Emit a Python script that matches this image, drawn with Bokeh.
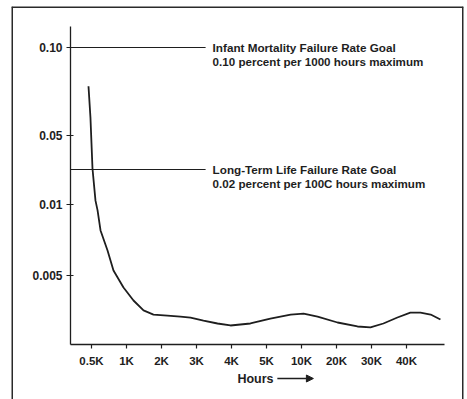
import numpy as np
from bokeh.plotting import figure
from bokeh.models import (Range1d, FixedTicker, Arrow, NormalHead, ColumnDataSource,
                          LinearAxis)
from bokeh.core.properties import value
from bokeh.embed import file_html
from bokeh.resources import INLINE

# ---- data -------------------------------------------------------------
x_tick_hours = [500, 1000, 2000, 3000, 4000, 5000, 10000, 20000, 30000, 40000]
x_tick_labels = ["0.5K", "1K", "2K", "3K", "4K", "5K", "10K", "20K", "30K", "40K"]

y_tick_rates = [0.005, 0.01, 0.05, 0.10]
y_tick_labels = ["0.005", "0.01", "0.05", "0.10"]

# failure rate (percent per 1000 hours)
curve_hours = [457, 485, 514, 557, 586, 629, 729, 814, 957, 1200, 1486, 1770, 2170,
               2540, 2830, 3200, 3600, 3970, 4540, 5550, 8450, 10600, 14600, 20300,
               26000, 29700, 33400, 37400, 41100, 44000, 46900, 49700]
curve_rate = [0.078, 0.0602, 0.0209, 0.0111, 0.0096, 0.00817, 0.00676, 0.00535,
              0.00415, 0.00324, 0.00254, 0.00225, 0.00218, 0.00211, 0.00204,
              0.00183, 0.00162, 0.00148, 0.00162, 0.00197, 0.00225, 0.00232,
              0.00211, 0.00169, 0.00141, 0.00134, 0.00162, 0.00204, 0.00239,
              0.00239, 0.00225, 0.00190]

goal_rates = [0.10, 0.02]
goal_titles = ["Infant Mortality Failure Rate Goal", "Long-Term Life Failure Rate Goal"]
goal_subtitles = ["0.10 percent per 1000 hours maximum", "0.02 percent per 100C hours maximum"]

x_title = "Hours"

# ---- the chart's own (non-uniform) axis scales --------------------------
X_ANCHOR_VAL = x_tick_hours
X_ANCHOR_POS = list(range(len(x_tick_hours)))
Y_ANCHOR_VAL = [0.005, 0.01, 0.02, 0.05, 0.10]
Y_ANCHOR_POS = [69, 140, 175, 209, 297]


def scale(v, av, ap):
    v = np.asarray(v, dtype=float)
    av = np.asarray(av, dtype=float)
    ap = np.asarray(ap, dtype=float)
    out = np.interp(v, av, ap)
    lo = v < av[0]
    hi = v > av[-1]
    s0 = (ap[1] - ap[0]) / (av[1] - av[0])
    s1 = (ap[-1] - ap[-2]) / (av[-1] - av[-2])
    out[lo] = ap[0] + (v[lo] - av[0]) * s0
    out[hi] = ap[-1] + (v[hi] - av[-1]) * s1
    return out


cx = scale(curve_hours, X_ANCHOR_VAL, X_ANCHOR_POS)
cy = scale(curve_rate, Y_ANCHOR_VAL, Y_ANCHOR_POS)
gy = scale(goal_rates, Y_ANCHOR_VAL, Y_ANCHOR_POS)
ytick_pos = [int(round(v)) for v in scale(y_tick_rates, Y_ANCHOR_VAL, Y_ANCHOR_POS)]

INK = "#1e1e1e"
FONT = "Liberation Sans"

# the frame is the outer box of the figure; the axes sit inside it
XR = Range1d(-2.286, 10.629)
YR = Range1d(-55, 338)
X_AXIS_AT = 0        # y position of the hours axis
Y_AXIS_AT = -0.6     # x position of the rate axis
X_AXIS_END = 10.1
Y_AXIS_END = 318

p = figure(width=467, height=399, output_backend="svg", toolbar_location=None,
           x_range=XR, y_range=YR, x_axis_location=None, y_axis_location=None,
           min_border=0, min_border_left=11, min_border_right=4,
           min_border_top=6, min_border_bottom=0)
p.grid.visible = False
p.outline_line_color = None
p.background_fill_color = "white"
p.border_fill_color = "white"

xaxis = LinearAxis(fixed_location=X_AXIS_AT, bounds=(Y_AXIS_AT, X_AXIS_END),
                   ticker=FixedTicker(ticks=X_ANCHOR_POS),
                   major_label_overrides={i: lab for i, lab in zip(X_ANCHOR_POS, x_tick_labels)})
yaxis = LinearAxis(fixed_location=Y_AXIS_AT, bounds=(X_AXIS_AT, Y_AXIS_END),
                   ticker=FixedTicker(ticks=ytick_pos),
                   major_label_overrides={pos: lab for pos, lab in zip(ytick_pos, y_tick_labels)})
for ax in (xaxis, yaxis):
    ax.axis_line_color = INK
    ax.axis_line_width = 1.3
    ax.major_tick_line_color = INK
    ax.major_tick_line_width = 1.2
    ax.minor_tick_line_color = None
    ax.major_label_text_font = FONT
    ax.major_label_text_font_style = "bold"
    ax.major_label_text_color = INK
xaxis.major_label_text_font_size = "11.5px"
yaxis.major_label_text_font_size = "12px"
xaxis.major_tick_in = 0
xaxis.major_tick_out = 4
xaxis.major_label_standoff = 6
yaxis.major_tick_in = 3
yaxis.major_tick_out = 4
yaxis.major_label_standoff = 4
p.add_layout(xaxis, "below")
p.add_layout(yaxis, "left")

# outer box (left, top, right edges; the bottom runs off the page)
bx0 = [XR.start, XR.start, XR.end]
by0 = [YR.start, YR.end, YR.end]
bx1 = [XR.start, XR.end, XR.end]
by1 = [YR.end, YR.end, YR.start]
p.segment(x0=bx0, y0=by0, x1=bx1, y1=by1, line_color="#2a2a2a", line_width=3)

# goal lines
p.segment(x0=[Y_AXIS_AT] * len(gy), y0=gy, x1=[3.26] * len(gy), y1=gy,
          line_color=INK, line_width=1.2)
src = ColumnDataSource(dict(x=[3.46] * len(gy), y=gy, y2=gy - 13.5,
                            t1=goal_titles, t2=goal_subtitles))
p.text(x="x", y="y", text="t1", source=src, text_font=value(FONT), text_font_style="bold",
       text_font_size="11.7px", text_color=INK, text_baseline="middle", text_align="left")
p.text(x="x", y="y2", text="t2", source=src, text_font=value(FONT), text_font_style="bold",
       text_font_size="11.6px", text_color=INK, text_baseline="middle", text_align="left")

# curve
p.line(cx, cy, line_color=INK, line_width=1.8)

# axis title with arrow
p.text(x=[4.17], y=[-34], text=[x_title], text_font=value(FONT), text_font_style="bold",
       text_font_size="12.5px", text_color=INK, text_baseline="middle", text_align="left")
p.add_layout(Arrow(x_start=5.31, y_start=-34, x_end=6.34, y_end=-34, line_color=INK,
                   line_width=1.3,
                   end=NormalHead(size=7, fill_color=INK, line_color=INK)))

open("out.html", "w").write(file_html(p, INLINE))
